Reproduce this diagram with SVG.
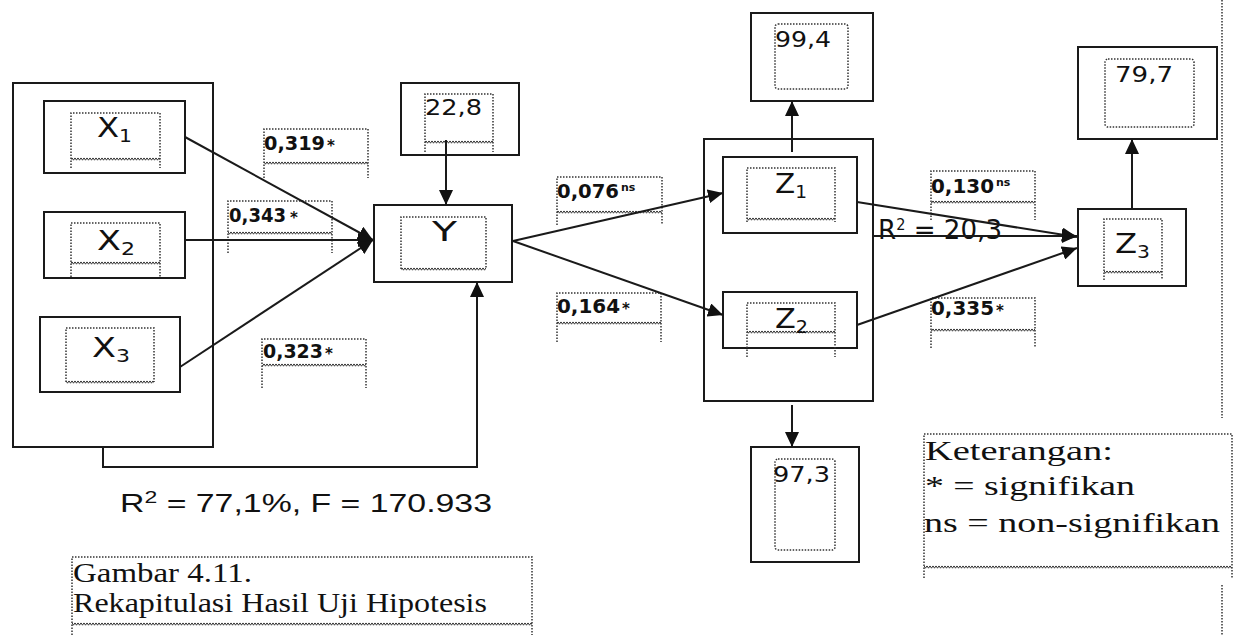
<svg xmlns="http://www.w3.org/2000/svg" width="1238" height="635" viewBox="0 0 1238 635">
<style>
.box{fill:#fff;stroke:#1a1a1a;stroke-width:2}
.frame{fill:none;stroke:#1a1a1a;stroke-width:2}
.dot{fill:none;stroke:#333;stroke-width:1.5;stroke-dasharray:1.5 1.5}
.wave{fill:url(#wave)}
.conn{fill:none;stroke:#1a1a1a;stroke-width:2;marker-end:url(#ah)}
.lbl{font-family:"DejaVu Sans",Verdana,sans-serif;font-size:27px;fill:#111}
.num{font-family:"DejaVu Sans",Verdana,sans-serif;font-size:21px;fill:#111}
.coef{font-family:"DejaVu Sans",Verdana,sans-serif;font-size:20px;font-weight:bold;fill:#111}
.sup{font-family:"DejaVu Sans",Verdana,sans-serif;font-weight:bold;fill:#111}
.ser{font-family:"Liberation Serif","Times New Roman",serif;font-size:27px;fill:#111}
.cal{font-family:"Liberation Sans",Arial,sans-serif;font-size:25px;fill:#111}
</style>
<defs>
<pattern id="wave" x="0" y="0" width="3" height="4" patternUnits="userSpaceOnUse">
<path d="M0 0.8 L1.5 3.2 L3 0.8" fill="none" stroke="#333" stroke-width="1"/>
</pattern>
<marker id="ah" viewBox="0 0 15 14" refX="15" refY="7" markerWidth="15" markerHeight="14" markerUnits="userSpaceOnUse" orient="auto">
<path d="M0 0 L15 7 L0 14 Z" fill="#111"/>
</marker>
</defs>
<rect width="1238" height="635" fill="#fff"/>

<g id="guide">
<path class="dot" d="M1222 0 V418 M1222 585 V635"/>
</g>

<g id="groupX">
<rect class="frame" x="13" y="83" width="200" height="364"/>
</g>

<g id="X1">
<rect class="box" x="44" y="101" width="141" height="72"/>
<path class="dot" d="M71 168 V113 H160 V168"/>
<rect class="wave" transform="translate(0,157)" x="71" y="0" width="89" height="4"/>
<text class="lbl" x="97" y="137" textLength="35" lengthAdjust="spacingAndGlyphs">X<tspan font-size="17" dy="5">1</tspan></text>
</g>
<g id="X2">
<rect class="box" x="44" y="212" width="141" height="66"/>
<path class="dot" d="M71 277 V223 H160 V277"/>
<rect class="wave" transform="translate(0,261)" x="71" y="0" width="89" height="4"/>
<text class="lbl" x="97" y="250" textLength="38" lengthAdjust="spacingAndGlyphs">X<tspan font-size="17" dy="5">2</tspan></text>
</g>
<g id="X3">
<rect class="box" x="40" y="317" width="140" height="75"/>
<path class="dot" d="M66 382 V328 H154 V382"/>
<rect class="wave" transform="translate(0,380)" x="66" y="0" width="88" height="4"/>
<text class="lbl" x="92" y="357" textLength="38" lengthAdjust="spacingAndGlyphs">X<tspan font-size="17" dy="5">3</tspan></text>
</g>

<g id="E_Y">
<rect class="box" x="401" y="83" width="118" height="72"/>
<path class="dot" d="M425 152 V94 H493 V152"/>
<rect class="wave" transform="translate(0,140)" x="425" y="0" width="68" height="4"/>
<text class="num" x="425" y="115" textLength="57" lengthAdjust="spacingAndGlyphs">22,8</text>
</g>
<g id="Y">
<rect class="box" x="374" y="205" width="138" height="77"/>
<path class="dot" d="M401 269 V217 H486 V269"/>
<rect class="wave" transform="translate(0,267)" x="401" y="0" width="85" height="4"/>
<text class="lbl" x="432" y="241" textLength="25" lengthAdjust="spacingAndGlyphs">Y</text>
</g>

<g id="groupZ">
<rect class="box" x="704" y="139" width="169" height="262"/>
</g>
<g id="Z1">
<rect class="box" x="723" y="157" width="134" height="76"/>
<path class="dot" d="M747 222 V168 H835 V222"/>
<rect class="wave" transform="translate(0,217)" x="747" y="0" width="88" height="4"/>
<text class="lbl" x="775" y="193" textLength="32" lengthAdjust="spacingAndGlyphs">Z<tspan font-size="17" dy="5">1</tspan></text>
</g>
<g id="Z2">
<rect class="box" x="723" y="292" width="134" height="56"/>
<path class="dot" d="M747 357 V303 H835 V357"/>
<rect class="wave" transform="translate(0,330)" x="747" y="0" width="88" height="4"/>
<text class="lbl" x="775" y="328" textLength="33" lengthAdjust="spacingAndGlyphs">Z<tspan font-size="17" dy="5">2</tspan></text>
</g>
<g id="E_Z1">
<rect class="box" x="751" y="13" width="122" height="88"/>
<rect class="dot" x="775" y="24" width="73" height="65" rx="3"/>
<text class="num" x="775" y="47" textLength="56" lengthAdjust="spacingAndGlyphs">99,4</text>
</g>
<g id="E_Z2">
<rect class="box" x="751" y="447" width="108" height="115"/>
<rect class="dot" x="775" y="459" width="60" height="91" rx="3"/>
<text class="num" x="773" y="482" textLength="57" lengthAdjust="spacingAndGlyphs">97,3</text>
</g>
<g id="Z3">
<rect class="box" x="1078" y="209" width="108" height="77"/>
<path class="dot" d="M1104 280 V219 H1162 V280"/>
<rect class="wave" transform="translate(0,270)" x="1104" y="0" width="58" height="4"/>
<text class="lbl" x="1115" y="253" textLength="35" lengthAdjust="spacingAndGlyphs">Z<tspan font-size="17" dy="5">3</tspan></text>
</g>
<g id="E_Z3">
<rect class="box" x="1078" y="47" width="139" height="92"/>
<rect class="dot" x="1105" y="59" width="89" height="68" rx="3"/>
<text class="num" x="1115" y="82" textLength="58" lengthAdjust="spacingAndGlyphs">79,7</text>
</g>

<g id="labels">
<path class="dot" d="M264 178 V129 H368 V178"/>
<rect class="wave" transform="translate(0,161)" x="264" y="0" width="104" height="4"/>
<text class="coef" x="264" y="150" textLength="61" lengthAdjust="spacingAndGlyphs">0,319</text>
<text class="sup" x="327" y="151" font-size="15">*</text>

<path class="dot" d="M228 253 V201 H332 V253"/>
<rect class="wave" transform="translate(0,231)" x="228" y="0" width="104" height="4"/>
<text class="coef" x="229" y="222" textLength="57" lengthAdjust="spacingAndGlyphs">0,343</text>
<text class="sup" x="290" y="223" font-size="15">*</text>

<path class="dot" d="M262 388 V339 H366 V388"/>
<rect class="wave" transform="translate(0,363)" x="262" y="0" width="104" height="4"/>
<text class="coef" x="263" y="358" textLength="60" lengthAdjust="spacingAndGlyphs">0,323</text>
<text class="sup" x="325" y="359" font-size="15">*</text>

<path class="dot" d="M557 225 V177 H662 V225"/>
<rect class="wave" transform="translate(0,210)" x="557" y="0" width="105" height="4"/>
<text class="coef" x="557" y="198" textLength="62" lengthAdjust="spacingAndGlyphs">0,076</text>
<text class="sup" x="621" y="191" font-size="11">ns</text>

<path class="dot" d="M557 342 V293 H661 V342"/>
<rect class="wave" transform="translate(0,321)" x="557" y="0" width="104" height="4"/>
<text class="coef" x="557" y="313" textLength="63" lengthAdjust="spacingAndGlyphs">0,164</text>
<text class="sup" x="622" y="314" font-size="15">*</text>

<path class="dot" d="M931 220 V171 H1035 V220"/>
<rect class="wave" transform="translate(0,200)" x="931" y="0" width="104" height="4"/>
<text class="coef" x="931" y="193" textLength="63" lengthAdjust="spacingAndGlyphs">0,130</text>
<text class="sup" x="996" y="186" font-size="11">ns</text>

<path class="dot" d="M931 348 V298 H1035 V348"/>
<rect class="wave" transform="translate(0,328)" x="931" y="0" width="104" height="4"/>
<text class="coef" x="931" y="315" textLength="63" lengthAdjust="spacingAndGlyphs">0,335</text>
<text class="sup" x="996" y="316" font-size="15">*</text>
</g>

<text class="lbl" x="878" y="239" font-size="22" textLength="124" lengthAdjust="spacingAndGlyphs">R<tspan font-size="15" dy="-9">2</tspan><tspan dy="9"> = 20,3</tspan></text>

<g id="connectors">
<line class="conn" x1="185" y1="137" x2="373" y2="240"/>
<line class="conn" x1="185" y1="240" x2="373" y2="240"/>
<line class="conn" x1="180" y1="367" x2="373" y2="240"/>
<line class="conn" x1="446" y1="140" x2="446" y2="205"/>
<path class="conn" d="M103 447 V467 H477 V282"/>
<line class="conn" x1="513" y1="241" x2="723" y2="193"/>
<line class="conn" x1="513" y1="241" x2="723" y2="315"/>
<line class="conn" x1="792" y1="152" x2="792" y2="101"/>
<line class="conn" x1="792" y1="405" x2="792" y2="447"/>
<line class="conn" x1="857" y1="202" x2="1077" y2="237"/>
<line class="conn" x1="873" y1="236" x2="1077" y2="236"/>
<line class="conn" x1="857" y1="325" x2="1077" y2="248"/>
<line class="conn" x1="1132" y1="209" x2="1132" y2="139"/>
</g>

<text class="cal" x="120" y="512" textLength="372" lengthAdjust="spacingAndGlyphs">R<tspan font-size="17" dy="-9">2</tspan><tspan dy="9"> = 77,1%, F = 170.933</tspan></text>

<g id="legend">
<path class="dot" d="M924 578 V434 H1232 V578"/>
<rect class="wave" transform="translate(0,565)" x="924" y="0" width="308" height="4"/>
<text class="ser" x="925" y="460" textLength="188" lengthAdjust="spacingAndGlyphs">Keterangan:</text>
<text class="ser" x="925" y="495" textLength="210" lengthAdjust="spacingAndGlyphs">* = signifikan</text>
<text class="ser" x="924" y="532" textLength="296" lengthAdjust="spacingAndGlyphs">ns = non-signifikan</text>
</g>

<g id="caption">
<path class="dot" d="M72 635 V557 H532 V635"/>
<rect class="wave" transform="translate(0,622)" x="72" y="0" width="460" height="4"/>
<text class="ser" x="73" y="582" font-size="26" textLength="179" lengthAdjust="spacingAndGlyphs">Gambar 4.11.</text>
<text class="ser" x="73" y="612" font-size="26" textLength="414" lengthAdjust="spacingAndGlyphs">Rekapitulasi Hasil Uji Hipotesis</text>
</g>
</svg>
